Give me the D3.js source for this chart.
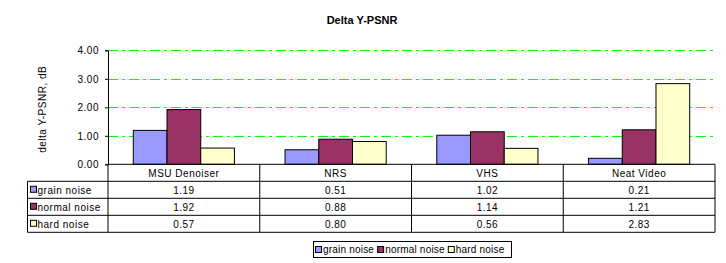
<!DOCTYPE html>
<html>
<head>
<meta charset="utf-8">
<script src="https://cdn.jsdelivr.net/npm/d3@7"></script>
<style>
  body { margin: 0; background: #fff; }
  svg text { font-family: "Liberation Sans", Arial, sans-serif; font-size: 10px; fill: #000; letter-spacing: 0.5px; }
</style>
</head>
<body>
<div id="chart"></div>
<script>
const categories = ['MSU Denoiser', 'NRS', 'VHS', 'Neat Video'];
const seriesNames = ['grain noise', 'normal noise', 'hard noise'];
const grainNoise = [1.19, 0.51, 1.02, 0.21];
const normalNoise = [1.92, 0.88, 1.14, 1.21];
const hardNoise = [0.57, 0.80, 0.56, 2.83];
const yTicks = [0, 1, 2, 3, 4];
const colors = ['#9999FF', '#993366', '#FFFFCC'];

const series = [grainNoise, normalNoise, hardNoise];

const W = 726, H = 263;
const plot = {left: 108, right: 715, top: 50.3, bottom: 164.3};
const rowH = 17;
const tableLeft = 27.5;

const svg = d3.select('#chart').append('svg')
  .attr('width', W)
  .attr('height', H);

const x0 = d3.scaleBand()
  .domain(categories)
  .range([plot.left, plot.right]);

const x1 = d3.scaleBand()
  .domain(d3.range(seriesNames.length))
  .range([x0.bandwidth() / 6, x0.bandwidth() * 5 / 6]);

const y = d3.scaleLinear()
  .domain([0, 4])
  .range([plot.bottom, plot.top]);

// title
svg.append('text')
  .attr('x', 362)
  .attr('y', 24)
  .attr('text-anchor', 'middle')
  .style('font-weight', 'bold')
  .style('font-size', '11px')
  .style('letter-spacing', '0px')
  .text('Delta Y-PSNR');

// y axis title
svg.append('text')
  .attr('transform', `translate(46,${(plot.top + plot.bottom) / 2 + 2}) rotate(-90)`)
  .attr('text-anchor', 'middle')
  .text('delta Y-PSNR, dB');

// gridlines
svg.append('g')
  .selectAll('line')
  .data(yTicks.filter(d => d > 0))
  .enter().append('line')
  .attr('x1', plot.left)
  .attr('x2', plot.right)
  .attr('y1', d => Math.round(y(d)) + 0.5)
  .attr('y2', d => Math.round(y(d)) + 0.5)
  .attr('stroke', '#00FF00')
  .attr('stroke-dasharray', '10,4,3,4');

// bars
const groups = svg.append('g')
  .selectAll('g')
  .data(categories)
  .enter().append('g')
  .attr('transform', d => `translate(${x0(d)},0)`);

groups.selectAll('rect')
  .data((d, i) => series.map((s, j) => ({j: j, v: s[i]})))
  .enter().append('rect')
  .attr('x', d => x1(d.j))
  .attr('y', d => y(d.v))
  .attr('width', x1.bandwidth())
  .attr('height', d => plot.bottom - y(d.v))
  .attr('fill', d => colors[d.j])
  .attr('stroke', '#000')
  .attr('stroke-width', 1);

// y axis
const yAxis = d3.axisLeft(y)
  .tickValues(yTicks)
  .tickSize(3)
  .tickFormat(d3.format('.2f'));

const ya = svg.append('g')
  .attr('transform', `translate(${plot.left},0)`)
  .call(yAxis);
ya.select('.domain').attr('stroke', '#000');
ya.selectAll('line').attr('stroke', '#000');
ya.selectAll('text')
  .attr('x', -9)
  .style('font-family', '"Liberation Sans", Arial, sans-serif')
  .style('font-size', '10px');

// data table
const table = svg.append('g').attr('fill', 'none').attr('stroke', '#000');
const tableBottom = plot.bottom + rowH * 4;

// horizontal lines
table.append('line')
  .attr('x1', plot.left).attr('x2', plot.right)
  .attr('y1', plot.bottom).attr('y2', plot.bottom);
d3.range(1, 5).forEach(r => {
  table.append('line')
    .attr('x1', tableLeft).attr('x2', plot.right)
    .attr('y1', plot.bottom + r * rowH).attr('y2', plot.bottom + r * rowH);
});
// vertical lines
table.append('line')
  .attr('x1', tableLeft).attr('x2', tableLeft)
  .attr('y1', plot.bottom + rowH).attr('y2', tableBottom);
categories.forEach(c => {
  table.append('line')
    .attr('x1', x0(c)).attr('x2', x0(c))
    .attr('y1', plot.bottom).attr('y2', tableBottom);
});
table.append('line')
  .attr('x1', plot.right).attr('x2', plot.right)
  .attr('y1', plot.bottom).attr('y2', tableBottom);

// category labels
svg.append('g')
  .selectAll('text')
  .data(categories)
  .enter().append('text')
  .attr('x', d => x0(d) + x0.bandwidth() / 2)
  .attr('y', plot.bottom + rowH / 2 + 4)
  .attr('text-anchor', 'middle')
  .text(d => d);

// value cells
const fmt = d3.format('.2f');
series.forEach((s, j) => {
  const rowY = plot.bottom + (j + 1) * rowH;
  svg.append('rect')
    .attr('x', tableLeft + 3)
    .attr('y', rowY + rowH / 2 - 3.5)
    .attr('width', 6)
    .attr('height', 6)
    .attr('fill', colors[j])
    .attr('stroke', '#000');
  svg.append('text')
    .attr('x', tableLeft + 10)
    .attr('y', rowY + rowH / 2 + 4)
    .text(seriesNames[j]);
  svg.append('g')
    .selectAll('text')
    .data(s)
    .enter().append('text')
    .attr('x', (d, i) => x0(categories[i]) + x0.bandwidth() / 2)
    .attr('y', rowY + rowH / 2 + 4)
    .attr('text-anchor', 'middle')
    .text(d => fmt(d));
});

// legend
const legend = svg.append('g');
legend.append('rect')
  .attr('x', 313.5)
  .attr('y', 241.5)
  .attr('width', 198)
  .attr('height', 16)
  .attr('fill', '#fff')
  .attr('stroke', '#000');

let lx = 315;
seriesNames.forEach((name, j) => {
  legend.append('rect')
    .attr('x', lx + 0.5)
    .attr('y', 246.5)
    .attr('width', 6)
    .attr('height', 6)
    .attr('fill', colors[j])
    .attr('stroke', '#000');
  const t = legend.append('text')
    .attr('x', lx + 8)
    .attr('y', 253)
    .style('letter-spacing', '0.2px')
    .text(name);
  lx += 8 + t.node().getComputedTextLength() + 3;
});
</script>
</body>
</html>
